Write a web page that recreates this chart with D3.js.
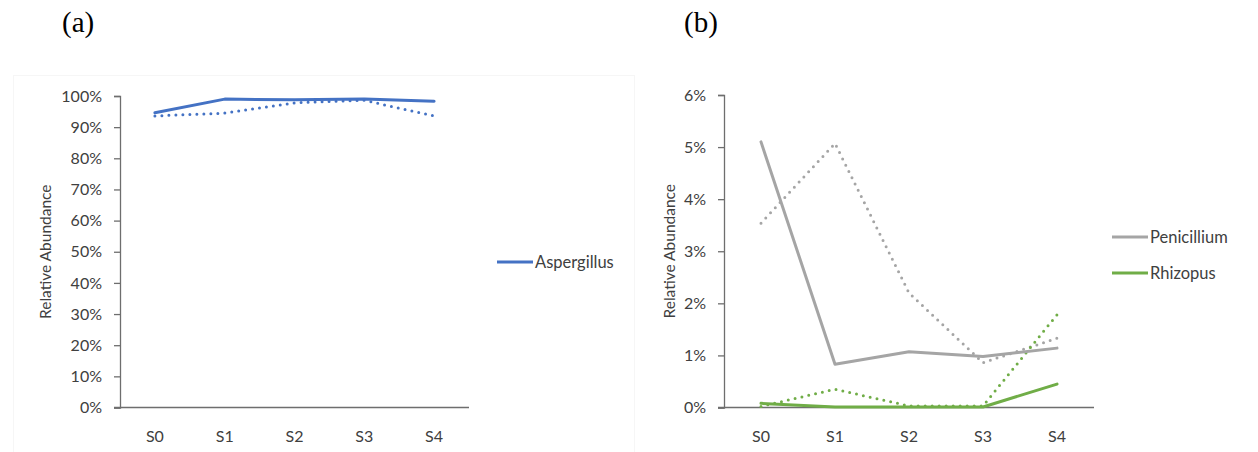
<!DOCTYPE html>
<html>
<head>
<meta charset="utf-8">
<script src="https://cdn.jsdelivr.net/npm/d3@7"></script>
<style>
  body { margin: 0; background: #fff; }
  svg { display: block; }
  .tick text { font-family: Lato, "Open Sans", sans-serif; font-size: 16px; fill: #404040; }
  .axisTitle { font-family: Lato, "Open Sans", sans-serif; font-size: 15.5px; fill: #404040; }
  .legendText { font-family: Lato, "Open Sans", sans-serif; font-size: 16.5px; fill: #404040; }
  .panelLabel { font-family: "Liberation Serif", "Times New Roman", serif; font-size: 29px; fill: #000; }
</style>
</head>
<body>
<svg id="chart" width="1258" height="452"></svg>
<script>
// sample stages on the x axis
var stages = ["S0", "S1", "S2", "S3", "S4"];

// panel (a) values, percent
var aspergillusSolid = [94.6, 99.0, 98.8, 99.0, 98.3];
var aspergillusDotted = [93.6, 94.5, 97.8, 98.6, 93.6];
var ticksA = [0, 10, 20, 30, 40, 50, 60, 70, 80, 90, 100];

// panel (b) values, percent
var penicilliumSolid = [5.10, 0.83, 1.07, 0.98, 1.14];
var penicilliumDotted = [3.54, 5.07, 2.20, 0.86, 1.33];
var rhizopusSolid = [0.08, 0.01, 0.01, 0.01, 0.45];
var rhizopusDotted = [0.02, 0.35, 0.03, 0.03, 1.78];
var ticksB = [0, 1, 2, 3, 4, 5, 6];

var blue = "#4472c4", grey = "#a5a5a5", green = "#70ad47";

var svg = d3.select("#chart");

// faint chart-area border around panel (a)
svg.append("rect")
    .attr("x", 13.5).attr("y", 75.5)
    .attr("width", 621).attr("height", 380)
    .attr("fill", "none")
    .attr("stroke", "#f6f6f6");

function drawPanel(opt) {
    var g = svg.append("g");

    var x = d3.scaleBand()
        .domain(stages)
        .range([opt.left, opt.right]);

    var y = d3.scaleLinear()
        .domain([0, opt.max])
        .range([opt.bottom, opt.top]);

    //Y axis
    var yAxis = d3.axisLeft(y)
        .tickValues(opt.ticks)
        .tickSize(6)
        .tickPadding(12)
        .tickFormat(function(d) { return d + "%"; });

    var gy = g.append("g")
        .attr("transform", "translate(" + opt.left + ",0)")
        .call(yAxis);
    gy.select(".domain").attr("stroke", "#6e6e6e").attr("stroke-width", 1.3);
    gy.selectAll(".tick line").attr("stroke", "#6e6e6e").attr("stroke-width", 1.3);

    //X axis (no tick marks)
    var xAxis = d3.axisBottom(x).tickSize(0).tickPadding(23);
    var gx = g.append("g")
        .attr("transform", "translate(0," + opt.bottom + ")")
        .call(xAxis);
    gx.select(".domain").remove();
    gx.append("line")
        .attr("x1", opt.left - 6).attr("x2", opt.right)
        .attr("stroke", "#6e6e6e").attr("stroke-width", 1.3);

    // y axis title
    g.append("text")
        .attr("class", "axisTitle")
        .attr("text-anchor", "middle")
        .attr("transform", "translate(" + opt.titleX + "," + ((opt.top + opt.bottom) / 2) + ") rotate(-90)")
        .text("Relative Abundance");

    var line = d3.line()
        .x(function(d, i) { return x(stages[i]) + x.bandwidth() / 2; })
        .y(function(d) { return y(d); });

    opt.series.forEach(function(s) {
        g.append("path")
            .datum(s.values)
            .attr("fill", "none")
            .attr("stroke", s.color)
            .attr("stroke-width", 3)
            .attr("stroke-linecap", "round")
            .attr("stroke-linejoin", "round")
            .attr("stroke-dasharray", s.dotted ? "0,7" : null)
            .attr("d", line);
    });

    // legend, solid series only
    var legend = opt.series.filter(function(s) { return !s.dotted; });
    legend.forEach(function(s, i) {
        var ly = opt.legendY + i * 36;
        g.append("line")
            .attr("x1", opt.legendX).attr("x2", opt.legendX + 36)
            .attr("y1", ly).attr("y2", ly)
            .attr("stroke", s.color).attr("stroke-width", 3);
        g.append("text")
            .attr("class", "legendText")
            .attr("x", opt.legendX + 38).attr("y", ly + 6)
            .text(s.name);
    });

    svg.append("text")
        .attr("class", "panelLabel")
        .attr("x", opt.labelX).attr("y", 32)
        .text(opt.label);
}

drawPanel({
    label: "(a)", labelX: 62,
    left: 120, right: 469, top: 96, bottom: 407.5,
    max: 100, ticks: ticksA, titleX: 51,
    legendX: 497, legendY: 262,
    series: [
        { name: "Aspergillus", values: aspergillusDotted, color: blue, dotted: true },
        { name: "Aspergillus", values: aspergillusSolid, color: blue, dotted: false }
    ]
});

drawPanel({
    label: "(b)", labelX: 684,
    left: 724, right: 1094, top: 95, bottom: 407.5,
    max: 6, ticks: ticksB, titleX: 675,
    legendX: 1112, legendY: 237,
    series: [
        { name: "Penicillium", values: penicilliumDotted, color: grey, dotted: true },
        { name: "Rhizopus", values: rhizopusDotted, color: green, dotted: true },
        { name: "Penicillium", values: penicilliumSolid, color: grey, dotted: false },
        { name: "Rhizopus", values: rhizopusSolid, color: green, dotted: false }
    ]
});
</script>
</body>
</html>
